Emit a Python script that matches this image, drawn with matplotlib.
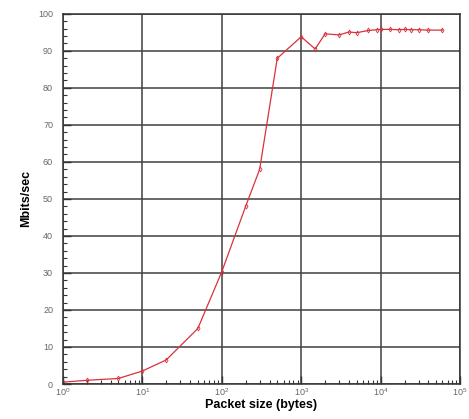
import matplotlib
matplotlib.use("Agg")
import matplotlib.pyplot as plt
from matplotlib.ticker import LogLocator, MultipleLocator, NullFormatter

plt.rcParams['font.family'] = ['Liberation Sans', 'DejaVu Sans']

packet_sizes = [1, 2, 5, 10, 20, 50, 100, 200, 300, 500, 1000, 1500, 2000, 3000,
                4000, 5000, 7000, 9000, 10000, 13000, 17000, 20000, 24000, 30000,
                40000, 60000]
mbits = [0.5, 1.0, 1.5, 3.5, 6.5, 15, 30.3, 48, 58, 88, 93.8, 90.5, 94.6, 94.3,
         95.1, 94.9, 95.5, 95.7, 95.8, 95.8, 95.7, 95.8, 95.7, 95.7, 95.6, 95.6]
y_ticks = list(range(0, 101, 10))
x_label = "Packet size (bytes)"
y_label = "Mbits/sec"

fig = plt.figure(figsize=(4.69, 4.19), dpi=100)
ax = fig.add_axes([0.134, 0.0835, 0.847, 0.8835])

ax.plot(packet_sizes, mbits, color='#d8323c', lw=0.9, marker='d', ms=2.5,
        markerfacecolor='none', markeredgewidth=0.6)

ax.set_xscale('log')
ax.set_xlim(1, 1e5)
ax.set_ylim(0, 100)
ax.set_yticks(y_ticks)
ax.yaxis.set_minor_locator(MultipleLocator(2))
ax.xaxis.set_major_locator(LogLocator(base=10, numticks=10))
ax.xaxis.set_minor_locator(LogLocator(base=10, subs=range(2, 10), numticks=20))
ax.xaxis.set_minor_formatter(NullFormatter())

ax.grid(True, which='major', color='#404040', lw=1.1)
ax.tick_params(which='both', direction='in', colors='#333333', labelcolor='#666666',
               labelsize=6.5)
ax.tick_params(which='major', length=6, width=1.0)
ax.tick_params(which='minor', length=3, width=0.8)
ax.tick_params(axis='x', pad=1.5)
ax.tick_params(axis='y', pad=7)

for s in ax.spines.values():
    s.set_color('#333333')
    s.set_linewidth(1.1)

ax.set_xlabel(x_label, fontsize=9, fontweight='bold', labelpad=1)
ax.set_ylabel(y_label, fontsize=9, fontweight='bold', labelpad=4)

fig.savefig('out.png', dpi=100)
